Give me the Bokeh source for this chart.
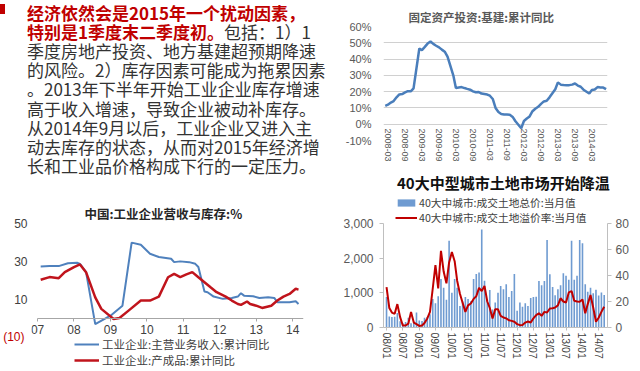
import pandas as pd
from bokeh.plotting import figure
from bokeh.models import (Range1d, LinearAxis, DatetimeAxis, FixedTicker, DatetimeTickFormatter,
                          PrintfTickFormatter, NumeralTickFormatter, Legend, LegendItem, Div,
                          ColumnDataSource, Grid)
from bokeh.layouts import row, column
from bokeh.embed import file_html
from bokeh.resources import INLINE

# ---------------- 固定资产投资:基建:累计同比 (%) ----------------
infra_months = [f"{y}-{m:02d}" for y in range(2008, 2015) for m in range(2, 13)][:73]
infra_yoy = [
    11.3, 12.0, 13.3, 14.2, 16.5, 18.3, 18.5, 19.5, 20.3, 20.2, 22.0,   # 2008
    46.5, 45.5, 47.5, 49.5, 50.8, 49.3, 48.2, 47.2, 45.8, 44.5, 41.5,   # 2009
    30.0, 22.3, 22.6, 22.8, 22.2, 21.7, 21.2, 20.2, 19.6, 19.8, 18.8,   # 2010
    18.2, 17.5, 15.5, 10.0, 7.5, 6.3, 6.0, 5.9, 5.8, 4.5, 1.8,          # 2011
    -2.5, 2.0, 3.5, 4.8, 8.0, 9.5, 10.7, 12.5, 14.0, 14.4, 16.5,        # 2012
    21.5, 25.7, 24.3, 24.1, 24.0, 24.0, 24.3, 25.0, 23.7, 23.0, 21.2,   # 2013
    18.9, 21.0, 21.3, 22.8, 22.6, 22.5, 21.5,                           # 2014
]
infra_ticks = ["2008-03", "2008-09", "2009-03", "2009-09", "2010-03", "2010-09", "2011-03",
               "2011-09", "2012-03", "2012-09", "2013-03", "2013-09", "2014-03"]

# ---------------- 中国:工业企业营收与库存 (%) ----------------
rev_months = ["2007-02", "2007-05", "2007-08", "2007-11", "2008-02", "2008-03", "2008-05", "2008-08",
              "2009-01", "2009-05", "2009-08", "2009-11", "2010-02", "2010-05", "2010-09", "2010-10",
              "2010-12", "2011-03", "2011-05", "2011-06", "2011-08", "2011-09", "2011-11", "2012-02",
              "2012-05", "2012-07", "2012-08", "2012-09", "2012-12", "2013-02", "2013-05", "2013-07",
              "2013-08", "2013-12", "2014-02", "2014-03"]
rev_yoy = [27.3, 27.5, 27.5, 29.0, 29.3, 28.7, 24.3, -3.1, 1.3, 6.6, 39.9, 38.8, 34.0, 32.3, 31.4,
           29.6, 30.0, 29.6, 28.7, 27.0, 14.1, 13.7, 11.4, 10.2, 10.7, 11.4, 13.2, 11.9, 11.6, 10.7,
           11.0, 10.7, 8.4, 8.4, 8.9, 7.5]
inv_months = ["2007-02", "2007-05", "2007-08", "2007-10", "2008-01", "2008-03", "2008-05", "2008-08",
              "2008-10", "2009-02", "2009-04", "2009-07", "2009-11", "2010-02", "2010-05", "2010-08",
              "2010-10", "2010-12", "2011-02", "2011-04", "2011-06", "2011-08", "2011-10", "2011-12",
              "2012-03", "2012-05", "2012-07", "2012-08", "2012-10", "2012-11", "2013-01", "2013-03",
              "2013-06", "2013-08", "2013-10", "2013-12", "2014-02", "2014-03"]
inv_yoy = [20.3, 21.7, 21.1, 24.3, 27.0, 28.4, 24.3, 11.0, 4.9, -0.4, 0.1, 4.0, 9.3, 9.3, 11.4,
           21.6, 23.4, 21.7, 23.1, 24.3, 21.6, 19.0, 16.3, 13.7, 11.4, 9.3, 7.5, 7.0, 8.8, 7.5,
           6.6, 5.4, 6.6, 9.3, 11.4, 12.8, 15.5, 15.1]
ind_ticks = ["2007-01", "2008-01", "2009-01", "2010-01", "2011-01", "2012-01", "2013-01", "2014-01"]

# ---------------- 40大中城市土地市场 ----------------
land_months = [str(d.date()) for d in pd.date_range("2008-01-01", periods=81, freq="MS")]
land_amount = [
    880, 320, 300, 310, 420, 180, 120, 160, 280, 120, 170, 430,            # 2008
    200, 190, 280, 300, 380, 820, 700, 900, 1400, 1150, 800, 2500,         # 2009
    1000, 1400, 1150, 620, 750, 880, 820, 760, 1400, 1540, 1590, 2830,     # 2010
    1350, 780, 1080, 520, 720, 1000, 1200, 1100, 1250, 880, 1050, 1540,    # 2011
    480, 720, 600, 700, 620, 850, 880, 885, 1345, 1220, 1345, 2527,        # 2012
    1538, 1172, 933, 1106, 1220, 1567, 1490, 1380, 2500, 1375, 1490, 2527, # 2013
    2430, 1250, 1030, 1150, 990, 1090, 920, 1010, 940,                     # 2014
]
land_premium = [
    31, 15, 11.5, 10.5, 18, 8, 1.5, 1.5, 3, 12, 3.8, 2.6,
    1.2, 1.5, 3.5, 7, 12, 30, 48, 30, 59, 43, 34, 50,
    58, 51, 36, 26, 19, 12, 17, 18.5, 22, 24, 30.5, 28,
    32, 20, 15, 7, 14, 14, 9, 7.7, 7, 5.6, 5.1, 4.4,
    2.6, 1.8, 2, 3.8, 4.6, 3.8, 7, 9.5, 11, 9, 12, 11.5,
    14.6, 14.8, 15.4, 17, 22.5, 20, 19.2, 27, 28, 20.5, 20, 19.8,
    21.5, 11, 18, 25, 15.4, 4.4, 7.5, 12, 16,
]
land_ticks = [f"{y}-{m:02d}" for y in range(2008, 2015) for m in (1, 7)]

FONT_CJK = "Noto Sans CJK SC"
FONT_NUM = "Liberation Sans"


def ms(s):
    return pd.Timestamp(s).value / 1e6


def base_fig(w, h, xr, yr, l, r, t, b, **kw):
    p = figure(width=w, height=h, output_backend="svg", toolbar_location=None,
               x_axis_location=None, y_axis_location=None, x_range=xr, y_range=yr,
               min_border_left=l, min_border_right=r, min_border_top=t, min_border_bottom=b,
               background_fill_color="white", border_fill_color="white", **kw)
    p.outline_line_color = None
    p.xgrid.visible = False
    p.ygrid.visible = False
    return p


def dt_fmt(f):
    return DatetimeTickFormatter(days=f, months=f, years=f, strip_leading_zeros=False)


# ================= text block =================
text_lines = [
    '<span style="color:#c00000;font-weight:bold">经济依然会是2015年一个扰动因素，</span>',
    '<span style="color:#c00000;font-weight:bold">特别是1季度末二季度初。</span>包括：1）1',
    '季度房地产投资、地方基建超预期降速',
    '的风险。2）库存因素可能成为拖累因素',
    '。2013年下半年开始工业企业库存增速',
    '高于收入增速，导致企业被动补库存。',
    '从2014年9月以后，工业企业又进入主',
    '动去库存的状态，从而对2015年经济增',
    '长和工业品价格构成下行的一定压力。',
]
body = "".join(f'<div style="padding-left:27px;height:19.2px;">{t}</div>' for t in text_lines)
text_html = ('<div style="position:relative;padding-top:2.6px;font-family:\'Noto Sans CJK SC\',sans-serif;'
             'font-size:17px;line-height:19.2px;color:#333333;white-space:nowrap;">'
             '<div style="position:absolute;left:0;top:4px;width:5px;height:10px;background:#c00000;"></div>'
             + body + '</div>')
intro = Div(text=text_html, width=330, height=190, margin=0)

# ================= top right: 基建 =================
tr = base_fig(310, 175, Range1d(ms("2008-01-13"), ms("2014-08-16")), Range1d(-10, 60), 38, 15, 26, 35)
tr_src = ColumnDataSource(dict(date=pd.to_datetime(infra_months), val=infra_yoy))
yt = FixedTicker(ticks=[-10, 0, 10, 20, 30, 40, 50, 60])
tr.add_layout(Grid(dimension=1, ticker=yt, grid_line_color="#d0d0d0", grid_line_width=1))
tr.line(x="date", y="val", source=tr_src, line_color="#4a7ebb", line_width=2.5)
ya = LinearAxis(ticker=yt, formatter=PrintfTickFormatter(format="%d%%"),
                axis_line_color=None, major_tick_line_color=None, minor_tick_line_color=None,
                major_label_text_font=FONT_NUM, major_label_text_font_size="11px",
                major_label_text_color="#595959", major_label_standoff=6)
tr.add_layout(ya, "left")
xa = DatetimeAxis(ticker=FixedTicker(ticks=[ms(t) for t in infra_ticks]), formatter=dt_fmt("%Y-%m"),
                  axis_line_color=None, major_tick_line_color=None, minor_tick_line_color=None,
                  major_tick_in=0, major_tick_out=0,
                  major_label_orientation="vertical", major_label_text_font=FONT_NUM,
                  major_label_text_font_size="9px", major_label_text_color="#595959",
                  major_label_standoff=-12)
tr.add_layout(xa, "below")
tr.title.text = "固定资产投资:基建:累计同比"
tr.title.align = "left"
tr.title.offset = 25
tr.title.standoff = 3
tr.title.text_font = FONT_CJK
tr.title.text_font_size = "11.5px"
tr.title.text_color = "#595959"
tr.title.text_font_style = "bold"

# ================= bottom left: 工业企业 =================
# frame extends below -10 to hold the legend (ticks only at -10..50)
bl_x0, bl_x1 = "2006-11-01", "2014-04-20"
bl = base_fig(330, 181, Range1d(ms(bl_x0), ms(bl_x1)), Range1d(-27.1, 50), 29, 27, 33, 2)
rev_src = ColumnDataSource(dict(date=pd.to_datetime(rev_months), val=rev_yoy))
inv_src = ColumnDataSource(dict(date=pd.to_datetime(inv_months), val=inv_yoy))
r_rev = bl.line(x="date", y="val", source=rev_src, line_color="#4f81bd", line_width=2)
r_inv = bl.line(x="date", y="val", source=inv_src, line_color="#c0141c", line_width=2.5)
bya = LinearAxis(ticker=FixedTicker(ticks=[10, 30, 50]),
                 axis_line_color=None, major_tick_line_color=None, major_tick_in=0, major_tick_out=0,
                 minor_tick_line_color=None, major_label_text_font=FONT_NUM,
                 major_label_text_font_size="12px", major_label_text_color="#404040",
                 major_label_standoff=4)
bl.add_layout(bya, "left")
bya2 = LinearAxis(ticker=FixedTicker(ticks=[-10]), major_label_overrides={-10: "(10)"},
                  axis_line_color=None, major_tick_line_color=None, major_tick_in=0, major_tick_out=0,
                  minor_tick_line_color=None, major_label_text_font=FONT_NUM,
                  major_label_text_font_size="12px", major_label_text_color="#c00000",
                  major_label_standoff=-13)
bl.add_layout(bya2, "left")
bxa = DatetimeAxis(ticker=FixedTicker(ticks=[ms(t) for t in ind_ticks]), formatter=dt_fmt("%y"),
                   fixed_location=0, bounds=(ms("2007-01-01"), ms(bl_x1)),
                   axis_line_color="#a6a6a6", major_tick_line_color="#a6a6a6",
                   major_tick_in=0, major_tick_out=3, minor_tick_line_color=None,
                   major_label_text_font=FONT_NUM, major_label_text_font_size="12px",
                   major_label_text_color="#404040", major_label_standoff=4)
bl.add_layout(bxa, "below")
bl_leg = Legend(items=[LegendItem(label="工业企业:主营业务收入:累计同比", renderers=[r_rev]),
                       LegendItem(label="工业企业:产成品:累计同比", renderers=[r_inv])],
                location=(43, 1), orientation="vertical", padding=0, margin=0, spacing=0,
                glyph_width=25, glyph_height=12, label_height=14, label_standoff=3,
                label_text_font=FONT_CJK, label_text_font_size="11.5px", label_text_color="#404040",
                border_line_color=None, background_fill_alpha=0)
bl.add_layout(bl_leg)
bl.title.text = "中国:工业企业营收与库存:%"
bl.title.align = "left"
bl.title.offset = 53
bl.title.standoff = 2
bl.title.text_font = FONT_CJK
bl.title.text_font_size = "12.5px"
bl.title.text_color = "#262626"
bl.title.text_font_style = "bold"

# ================= bottom right: 40城土地 =================
br_title = Div(text=('<div style="font-family:\'Noto Sans CJK SC\',sans-serif;font-size:15px;'
                     'font-weight:bold;color:#111111;line-height:15px;padding-left:67px;padding-top:0px;'
                     'white-space:nowrap;">40大中型城市土地市场开始降温</div>'),
               width=310, height=19, margin=0)
# frame extends above 3,000 / 80 to hold the legend (axes bounded to the data scale)
br = base_fig(310, 177, Range1d(ms("2007-11-28"), ms("2014-10-08")), Range1d(0, 3837), 53, 33, 0, 44,
              title_location=None)
br.extra_y_ranges = {"rate": Range1d(0, 102.3)}
land_src = ColumnDataSource(dict(date=pd.to_datetime(land_months), amount=land_amount, rate=land_premium))
r_bar = br.vbar(x="date", top="amount", width=18 * 86400000, source=land_src,
                fill_color="#6f9bd1", line_color=None)
r_rate = br.line(x="date", y="rate", source=land_src, y_range_name="rate",
                 line_color="#c00000", line_width=2)
lya = LinearAxis(ticker=FixedTicker(ticks=[0, 1000, 2000, 3000]), formatter=NumeralTickFormatter(format="0,0"),
                 bounds=(0, 3000), axis_line_color="#bfbfbf", major_tick_line_color="#bfbfbf",
                 major_tick_in=0, major_tick_out=4, minor_tick_line_color=None,
                 major_label_text_font=FONT_NUM, major_label_text_font_size="12px",
                 major_label_text_color="#595959", major_label_standoff=6)
br.add_layout(lya, "left")
rya = LinearAxis(y_range_name="rate", ticker=FixedTicker(ticks=[0, 20, 40, 60, 80]), bounds=(0, 80),
                 axis_line_color="#bfbfbf", major_tick_line_color="#bfbfbf",
                 major_tick_in=0, major_tick_out=4, minor_tick_line_color=None,
                 major_label_text_font=FONT_NUM, major_label_text_font_size="12px",
                 major_label_text_color="#595959", major_label_standoff=4)
br.add_layout(rya, "right")
brx = DatetimeAxis(ticker=FixedTicker(ticks=[ms(t) for t in land_ticks]), formatter=dt_fmt("%y/%m"),
                   axis_line_color="#bfbfbf", major_tick_line_color="#bfbfbf",
                   major_tick_in=0, major_tick_out=3, minor_tick_line_color=None,
                   major_label_orientation="vertical", major_label_text_font=FONT_NUM,
                   major_label_text_font_size="10.5px", major_label_text_color="#404040",
                   major_label_standoff=2)
br.add_layout(brx, "below")
br_leg = Legend(items=[LegendItem(label="40大中城市:成交土地总价:当月值", renderers=[r_bar]),
                       LegendItem(label="40大中城市:成交土地溢价率:当月值", renderers=[r_rate])],
                location=(12, 102), orientation="vertical", padding=0, margin=0, spacing=0,
                glyph_width=22, glyph_height=9, label_height=13, label_standoff=2,
                label_text_font=FONT_CJK, label_text_font_size="10.7px", label_text_color="#404040",
                border_line_color=None, background_fill_alpha=0)
br.add_layout(br_leg)

layout = row(column(intro, bl), column(tr, br_title, br))
open("out.html", "w").write(file_html(layout, INLINE))
